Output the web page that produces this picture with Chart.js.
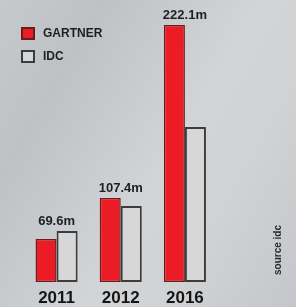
<!DOCTYPE html>
<html>
<head>
<meta charset="utf-8">
<script src="https://cdn.jsdelivr.net/npm/chart.js@4/dist/chart.umd.min.js"></script>
<style>
    html, body {
        margin: 0;
        padding: 0;
    }
    body {
        width: 296px;
        height: 307px;
        overflow: hidden;
        background: linear-gradient(120deg, #c6c9cc 0%, #bfc2c5 22%, #c8cbce 38%, #d2d4d6 55%, #d0d2d4 72%, #c4c6c9 100%);
    }
    canvas {
        display: block;
    }
</style>
</head>
<body>
<canvas id="myChart" width="296" height="307"></canvas>
<script>
// ------------------------------------- data -------------------------------------
const years = ['2011', '2012', '2016'];
const gartner = [37.2, 72.6, 222.1];
const idc = [44.1, 65.7, 134.0];
const valueLabels = ['69.6m', '107.4m', '222.1m'];
const seriesNames = ['GARTNER', 'IDC'];
const sourceNote = 'source idc';

const FONT = '"Liberation Sans", Arial, sans-serif';

// ------------------------------- value labels + legend + source -------------------------------
const extrasPlugin = {
    id: 'extras',
    afterDraw(chart) {
        const ctx = chart.ctx;
        const x = chart.scales.x;
        const y = chart.scales.y;

        // value labels above each group
        ctx.save();
        ctx.fillStyle = '#1e1e1e';
        ctx.font = 'bold 13px ' + FONT;
        ctx.textAlign = 'center';
        ctx.textBaseline = 'middle';
        valueLabels.forEach((txt, i) => {
            const top = y.getPixelForValue(Math.max(gartner[i], idc[i]));
            ctx.fillText(txt, x.getPixelForValue(i), top - 10);
        });
        ctx.restore();

        // legend
        ctx.save();
        chart.data.datasets.forEach((ds, i) => {
            const bx = 21, by = 27 + i * 23;
            ctx.fillStyle = ds.backgroundColor;
            ctx.fillRect(bx, by, 14, 13);
            ctx.lineWidth = 2;
            ctx.strokeStyle = ds.borderColor;
            ctx.strokeRect(bx + 1, by + 1, 12, 11);
            ctx.fillStyle = '#1e1e1e';
            ctx.font = 'bold 12px ' + FONT;
            ctx.textAlign = 'left';
            ctx.textBaseline = 'middle';
            ctx.fillText(ds.label, 43, by + 7);
        });
        ctx.restore();

        // source note, rotated
        ctx.save();
        ctx.translate(278, 250);
        ctx.rotate(-Math.PI / 2);
        ctx.fillStyle = '#2a2a2a';
        ctx.font = 'bold 10px ' + FONT;
        ctx.textAlign = 'center';
        ctx.textBaseline = 'middle';
        ctx.fillText(sourceNote, 0, 0);
        ctx.restore();
    }
};

// ------------------------------------- chart -------------------------------------
const ctx = document.getElementById('myChart');
new Chart(ctx, {
    type: 'bar',
    data: {
        labels: years,
        datasets: [{
            label: seriesNames[0],
            data: gartner,
            backgroundColor: '#ec1c26',
            borderColor: '#6a1c1c',
            borderWidth: 1.5,
            borderSkipped: false
        }, {
            label: seriesNames[1],
            data: idc,
            backgroundColor: '#d7d7d7',
            borderColor: '#3c3c3c',
            borderWidth: 2,
            borderSkipped: false
        }]
    },
    options: {
        responsive: false,
        animation: false,
        devicePixelRatio: 1,
        layout: {
            padding: { left: 24.5, right: 79, top: 25, bottom: 0 }
        },
        datasets: {
            bar: {
                barPercentage: 1,
                categoryPercentage: 0.656
            }
        },
        plugins: {
            legend: { display: false },
            tooltip: { enabled: false }
        },
        scales: {
            x: {
                grid: { display: false, drawTicks: false },
                border: { display: false },
                afterFit: (scale) => { scale.height = 25; },
                ticks: {
                    color: '#151515',
                    padding: 6,
                    font: { family: FONT, size: 17, weight: 'bold', lineHeight: 1.2 }
                }
            },
            y: {
                display: false,
                min: 0,
                max: 222.1
            }
        }
    },
    plugins: [extrasPlugin]
});
</script>
</body>
</html>
